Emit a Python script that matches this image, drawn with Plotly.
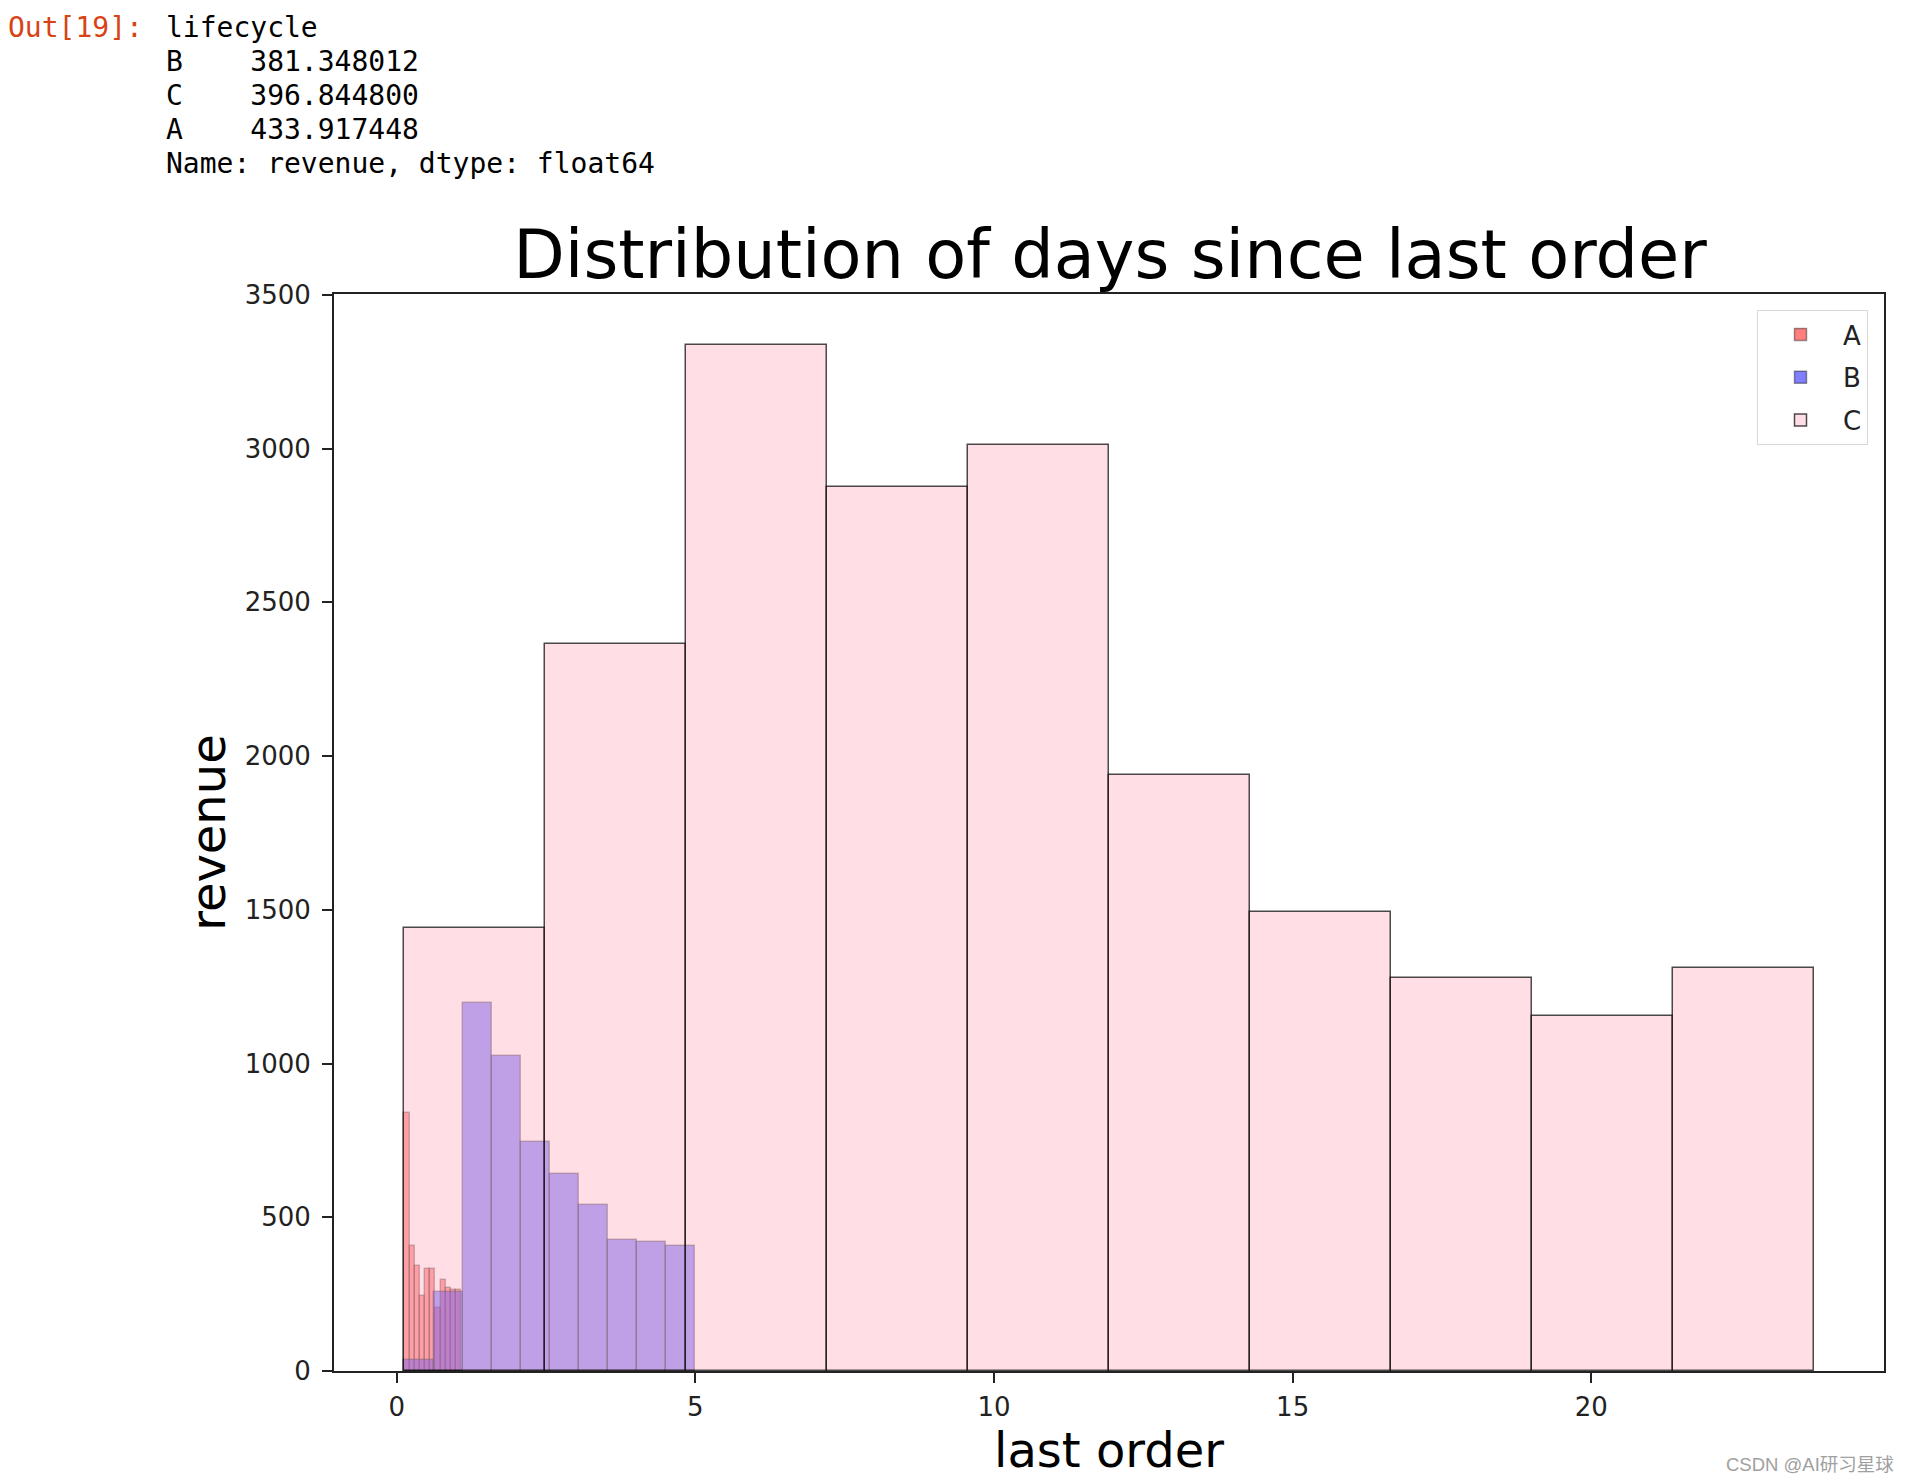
import plotly.graph_objects as go

# ---- data ----
series_names = ["A", "B", "C"]

a_start = 0.13
a_width = 0.0864
a_counts = [839, 406, 343, 243, 332, 332, 205, 297, 270, 265, 262]

b_start = 0.13
b_width = 0.486
b_counts = [37, 257, 1198, 1023, 745, 641, 541, 425, 418, 406]

c_start = 0.13
c_width = 2.359
c_counts = [1441, 2363, 3337, 2874, 3013, 1940, 1492, 1279, 1156, 1310]

x_ticks = [0, 5, 10, 15, 20]
y_ticks = [0, 500, 1000, 1500, 2000, 2500, 3000, 3500]

out_prompt = "Out[19]:"
out_lines = [
    "lifecycle",
    "B    381.348012",
    "C    396.844800",
    "A    433.917448",
    "Name: revenue, dtype: float64",
]

# ---- figure geometry (page pixels; the html body adds an 8px margin) ----
OFF = 8
W, H = 1910 - OFF, 1484 - OFF
PLOT_L, PLOT_R, PLOT_T, PLOT_B = 334, 1884, 294, 1371.5
L = PLOT_L - OFF
R = W - (PLOT_R - OFF)
T = PLOT_T - OFF
B = H - (PLOT_B - OFF)
PW = PLOT_R - PLOT_L
PH = PLOT_B - PLOT_T


def px_x(px):
    return (px - PLOT_L) / PW


def px_y(py):
    return (PLOT_B - py) / PH


def edges(start, width, n):
    return [start + i * width for i in range(n)]


fill = {
    "A": "rgba(255,0,0,0.5)",
    "B": "rgba(0,0,255,0.5)",
    "C": "rgba(255,192,203,0.5)",
}
line = {
    "A": "rgba(0,0,0,0.4)",
    "B": "rgba(0,0,0,0.4)",
    "C": "rgba(0,0,0,0.7)",
}
data = {
    "A": (a_start, a_width, a_counts),
    "B": (b_start, b_width, b_counts),
    "C": (c_start, c_width, c_counts),
}

fig = go.Figure()
for name in series_names:
    start, width, counts = data[name]
    fig.add_trace(
        go.Bar(
            name=name,
            legendgroup=name,
            x=edges(start, width, len(counts)),
            y=counts,
            width=width,
            offset=0,
            marker=dict(color=fill[name], line=dict(color=line[name], width=1.5)),
        )
    )

fig.update_layout(
    width=W,
    height=H,
    margin=dict(l=L, r=R, t=T, b=B),
    paper_bgcolor="white",
    plot_bgcolor="white",
    barmode="overlay",
    bargap=0,
    font=dict(family="DejaVu Sans", color="#222"),
    title=dict(
        text="Distribution of days since last order",
        font=dict(size=67, color="black", family="DejaVu Sans"),
        x=px_x(1110),
        xref="paper",
        xanchor="center",
        y=1 - (255 - OFF) / H,
        yanchor="middle",
    ),
    legend=dict(
        x=px_x(1868),
        y=px_y(310),
        xanchor="right",
        yanchor="top",
        bgcolor="white",
        bordercolor="#d8d8d8",
        borderwidth=1,
        font=dict(size=26, color="#222"),
        itemwidth=75,
        tracegroupgap=6,
    ),
)

fig.update_xaxes(
    range=[-1.05, 24.9],
    tickvals=x_ticks,
    ticks="outside",
    ticklen=10,
    tickwidth=1.5,
    tickcolor="#222",
    tickfont=dict(size=26, color="#222"),
    ticklabelstandoff=2,
    showline=True,
    linecolor="#222",
    linewidth=2,
    mirror=True,
    showgrid=False,
    zeroline=False,
    title=dict(text="last order", font=dict(size=48, color="black"), standoff=12),
)
fig.update_yaxes(
    range=[0, 3503],
    tickvals=y_ticks,
    ticks="outside",
    ticklen=10,
    tickwidth=1.5,
    tickcolor="#222",
    tickfont=dict(size=26, color="#222"),
    ticklabelstandoff=6,
    showline=True,
    linecolor="#222",
    linewidth=2,
    mirror=True,
    showgrid=False,
    zeroline=False,
    title=dict(text="revenue", font=dict(size=48, color="black"), standoff=4),
)

# Jupyter output text above the chart
fig.add_annotation(
    text=out_prompt,
    x=px_x(6), y=px_y(27), xref="paper", yref="paper",
    xanchor="left", yanchor="middle", showarrow=False,
    font=dict(family="DejaVu Sans Mono", size=28, color="#D84315"),
)
line_y = [27, 61, 95, 129, 163]
for txt, yy in zip(out_lines, line_y):
    fig.add_annotation(
        text=txt.replace(" ", "\u00a0"),
        x=px_x(164), y=px_y(yy), xref="paper", yref="paper",
        xanchor="left", yanchor="middle", showarrow=False,
        font=dict(family="DejaVu Sans Mono", size=28, color="black"),
    )

# watermark
fig.add_annotation(
    text="CSDN @AI研习星球",
    x=px_x(1896), y=px_y(1465), xref="paper", yref="paper",
    xanchor="right", yanchor="middle", showarrow=False,
    font=dict(family="Liberation Sans, Noto Sans CJK SC", size=18.5, color="#a0a0a0"),
)

fig.write_html("out.html")
